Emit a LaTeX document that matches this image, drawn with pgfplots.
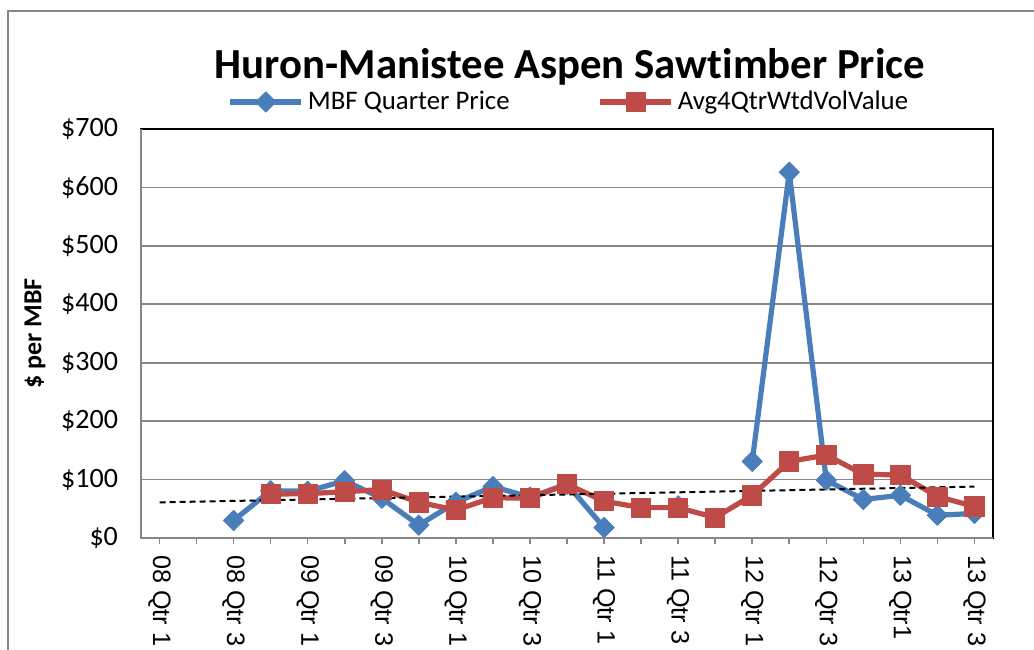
\documentclass[border=0pt]{standalone}
\usepackage{pgfplots}
\pgfplotsset{compat=1.18}
\usepackage{fontspec}
\setmainfont{Carlito}[Ligatures={NoCommon}]
\newfontfamily\arialfont{Liberation Sans}
\definecolor{blueS}{RGB}{74,126,187}
\definecolor{redS}{RGB}{190,75,72}
\definecolor{gridG}{RGB}{134,134,134}
\begin{document}
\begin{tikzpicture}[x=0.5pt,y=0.5pt]
\path[use as bounding box] (0,0) rectangle (1034,649);
\fill[white] (0,0) rectangle (1034,649);
\draw[gridG, line width=0.8pt] (8,-5) -- (8,638) -- (1040,638);
\node[font=\bfseries\fontsize{21.4}{25}\selectfont] at (570,582) {Huron-Manistee Aspen Sawtimber Price};
\begin{axis}[
  at={(70.5pt,55.5pt)}, anchor=south west,
  width=426pt, height=204.5pt, scale only axis,
  xmin=-0.5, xmax=22.5, ymin=0, ymax=700,
  axis line style={black, line width=0.8pt},
  xtick={0,...,22},
  xticklabels={08~Qtr~1,,08~Qtr~3,,09~Qtr~1,,09~Qtr~3,,10~Qtr~1,,10~Qtr~3,,11~Qtr~1,,11~Qtr~3,,12~Qtr~1,,12~Qtr~3,,13~Qtr1,,13~Qtr~3},
  xtick pos=bottom, xtick align=outside,
  x tick style={gridG, line width=0.8pt},
  major tick length=3pt,
  xticklabel shift=2pt,
  xticklabel style={rotate=-90, anchor=west, font=\arialfont\fontsize{12.6}{14}\selectfont},
  ytick={0,100,...,700},
  yticklabels={\$0,\$100,\$200,\$300,\$400,\$500,\$600,\$700},
  y tick style={draw=none},
  yticklabel style={xshift=-8pt, font=\fontsize{14}{16}\selectfont},
  ymajorgrids, grid style={gridG, line width=0.8pt},
  ylabel={\$ per MBF},
  every axis y label/.style={at={(axis description cs:-0.1244,0.5)}, rotate=90, anchor=center, font=\bfseries\fontsize{13}{15}\selectfont},
  unbounded coords=jump,
  legend columns=2,
  legend style={at={(0.5035,1.066)}, anchor=center, draw=none, fill=none,
    font=\fontsize{13.4}{15}\selectfont,
    /tikz/every even column/.append style={column sep=42pt}},
  legend image code/.code={\draw[mark repeat=2,mark phase=2] plot coordinates {(0pt,0pt) (17.75pt,0pt) (35.5pt,0pt)};},
  clip=false,
]
\addplot[blueS, line width=2.6pt, line join=round, mark=square*, mark size=3.6pt,
  mark options={rotate=45, line width=0.4pt, solid, fill=blueS}]
  coordinates {(0,nan) (1,nan) (2,30) (3,81) (4,80) (5,98) (6,68) (7,22) (8,61) (9,88) (10,70) (11,92) (12,18) (13,nan) (14,55) (15,nan) (16,131) (17,626) (18,99) (19,66) (20,73) (21,39) (22,42)};
\addlegendentry{MBF Quarter Price}
\addplot[redS, line width=2.6pt, line join=round, mark=square*, mark size=4.8pt,
  mark options={line width=0.4pt, solid, fill=redS}]
  coordinates {(3,75) (4,76) (5,79) (6,83) (7,61) (8,48) (9,69) (10,68) (11,92) (12,63) (13,52) (14,52) (15,35) (16,73) (17,131) (18,142) (19,109) (20,108) (21,71) (22,54)};
\addlegendentry{Avg4QtrWtdVolValue}
\addplot[black, line width=1pt, dash pattern=on 3pt off 2pt, forget plot]
  coordinates {(0,61) (22,88)};
\draw[gridG, line width=0.8pt] (rel axis cs:0,1) -- (rel axis cs:0,0) -- (rel axis cs:1,0);
\end{axis}
\end{tikzpicture}
\end{document}
